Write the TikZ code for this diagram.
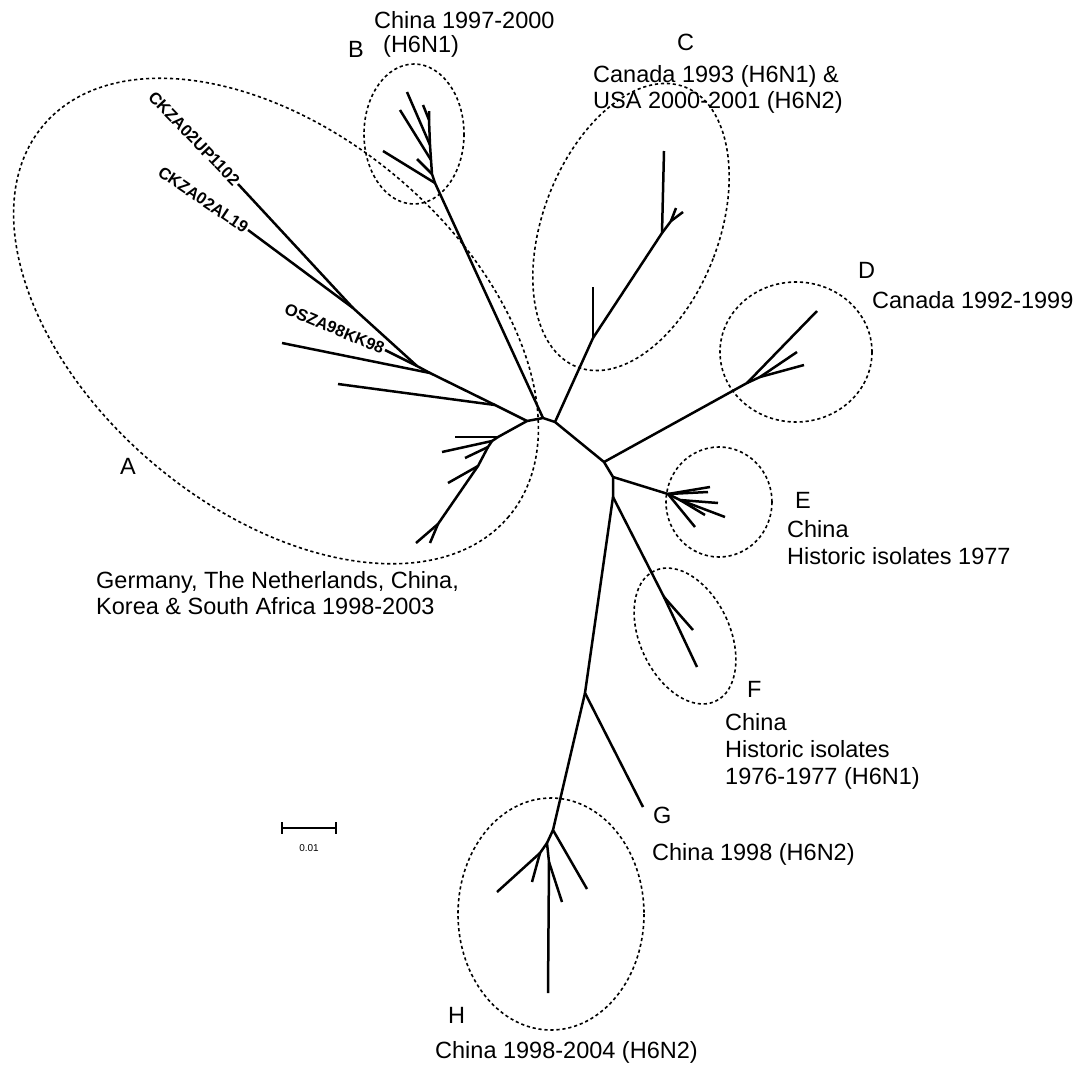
\documentclass[tikz,border=0pt]{standalone}
\usepackage{fontspec}
\setmainfont{Liberation Sans}
\begin{document}
\begin{tikzpicture}[x=1pt,y=-1pt,
  br/.style={line width=2.5pt, line join=round},
  clade/.style={line width=1.6pt, dash pattern=on 3.2pt off 2.8pt},
  lab/.style={font=\fontsize{23.5}{28}\selectfont, anchor=base west, inner sep=0pt},
  tiplab/.style={font=\bfseries\fontsize{16.5}{19}\selectfont, inner sep=1.5pt, anchor=east},
  sbar/.style={line width=1.6pt}]
\fill[white] (0,0) rectangle (1076,1066);
\useasboundingbox (0,0) rectangle (1076,1066);

% ---------- tree coordinates ----------
\coordinate (nA) at (527,421);
\coordinate (nB) at (543,418);
\coordinate (nC) at (555,422);
\coordinate (nD) at (604,462);
\coordinate (nE) at (613,477);
\coordinate (nM) at (613,497);
% A upper
\coordinate (s1) at (495,405); \coordinate (tA1) at (338,384);
\coordinate (s2) at (430,373); \coordinate (tA2) at (282,343);
\coordinate (s3) at (417,366); \coordinate (tOS) at (385,350);
\coordinate (s4) at (353,308); \coordinate (tUP) at (238,184); \coordinate (tAL) at (248,230);
% A lower
\coordinate (a1) at (498,437); \coordinate (ta1) at (455,437);
\coordinate (a2) at (492,441); \coordinate (ta2) at (442,452);
\coordinate (a3) at (488,447); \coordinate (ta3) at (465,458);
\coordinate (a4) at (478,466); \coordinate (ta4) at (448,483);
\coordinate (a5) at (438,524); \coordinate (ta5) at (416,543); \coordinate (ta6) at (430,543);
% B
\coordinate (b0) at (435,183); \coordinate (tb0) at (383,151);
\coordinate (b1) at (432,174); \coordinate (tb1) at (417,159);
\coordinate (b2) at (431,160); \coordinate (tb2) at (400,110);
\coordinate (b3) at (430,145); \coordinate (tb3) at (407,92);
\coordinate (b4) at (429,120); \coordinate (tb4) at (423,105); \coordinate (tb5) at (429,111);
% C
\coordinate (c1) at (593,338); \coordinate (tc1) at (593,287);
\coordinate (c2) at (662,233); \coordinate (tc2) at (664,151);
\coordinate (c3) at (671,221); \coordinate (tc3) at (683,212); \coordinate (tc4) at (676,208);
% D
\coordinate (d0) at (747,383); \coordinate (td0) at (817,311);
\coordinate (d1) at (760,377); \coordinate (td1) at (797,352); \coordinate (td2) at (804,365);
% E
\coordinate (e0) at (668,494); \coordinate (te1) at (710,487); \coordinate (te2) at (708,492);
\coordinate (e1) at (680,500); \coordinate (te3) at (718,503); \coordinate (te4) at (725,517);
\coordinate (te5) at (705,515); \coordinate (te6) at (695,527);
% F
\coordinate (f0) at (664,597); \coordinate (tf1) at (693,630); \coordinate (tf2) at (697,667);
% G, H
\coordinate (g0) at (585,693); \coordinate (tg) at (643,807);
\coordinate (h0) at (553,830); \coordinate (th0) at (587,889);
\coordinate (h1) at (547,843); \coordinate (th1) at (548,993);
\coordinate (h2) at (540,853); \coordinate (th2) at (497,892); \coordinate (th3) at (532,882);
\coordinate (h3) at (549,862); \coordinate (th4) at (562,902);

% ---------- branches ----------
\draw[br] (nA) -- (nB) -- (nC) -- (nD) -- (nE) -- (nM);
\draw[br] (nA) -- (s1) -- (s2) -- (s3) -- (s4) -- (tUP);
\draw[br] (s4) -- (tAL);
\draw[br] (s3) -- (tOS);
\draw[br] (s2) -- (tA2);
\draw[br] (s1) -- (tA1);
\draw[br] (nA) -- (a1) -- (a2) -- (a3) -- (a4) -- (a5) -- (ta5);
\draw[br] (a1) -- (ta1);
\draw[br] (a2) -- (ta2);
\draw[br] (a3) -- (ta3);
\draw[br] (a4) -- (ta4);
\draw[br] (a5) -- (ta6);
\draw[br] (nB) -- (b0) -- (b1) -- (b2) -- (b3) -- (b4) -- (tb5);
\draw[br] (b0) -- (tb0);
\draw[br] (b1) -- (tb1);
\draw[br] (b2) -- (tb2);
\draw[br] (b3) -- (tb3);
\draw[br] (b4) -- (tb4);
\draw[br] (nC) -- (c1) -- (c2) -- (c3) -- (tc3);
\draw[br] (c1) -- (tc1);
\draw[br] (c2) -- (tc2);
\draw[br] (c3) -- (tc4);
\draw[br] (nD) -- (d0) -- (td0);
\draw[br] (d0) -- (d1) -- (td1);
\draw[br] (d1) -- (td2);
\draw[br] (nE) -- (e0) -- (te1);
\draw[br] (e0) -- (te2);
\draw[br] (e0) -- (e1) -- (te3);
\draw[br] (e1) -- (te4);
\draw[br] (e1) -- (te5);
\draw[br] (e0) -- (te6);
\draw[br] (nM) -- (f0) -- (tf2);
\draw[br] (f0) -- (tf1);
\draw[br] (nM) -- (g0) -- (tg);
\draw[br] (g0) -- (h0) -- (th0);
\draw[br] (h0) -- (h1) -- (h3) -- (th1);
\draw[br] (h3) -- (th4);
\draw[br] (h1) -- (h2) -- (th2);
\draw[br] (h2) -- (th3);

% ---------- tip labels ----------
\node[tiplab, rotate=-46] (lUP) at (tUP) {CKZA02UP1102};
\node[tiplab, rotate=-34] (lAL) at (tAL) {CKZA02AL19};
\node[tiplab, rotate=-23] (lOS) at (tOS) {OSZA98KK98};

% ---------- clade ellipses ----------
\draw[clade, rotate around={-40:(276,321)}] (276,321) ellipse [x radius=304, y radius=188];
\draw[clade] (414,134) ellipse [x radius=50, y radius=70];
\draw[clade, rotate around={-21:(631,227)}] (631,227) ellipse [x radius=88, y radius=150];
\draw[clade] (796,352) ellipse [x radius=76, y radius=70];
\draw[clade] (719,502) ellipse [x radius=53, y radius=55];
\draw[clade, rotate around={25:(685,636)}] (685,636) ellipse [x radius=45, y radius=72];
\draw[clade] (551,914) ellipse [x radius=93, y radius=116];

% ---------- clade labels ----------
\node[lab] (LA) at (120,474) {A};
\node[lab] (LA1) at (96,588) {Germany, The Netherlands, China,};
\node[lab] (LA2) at (96,614) {Korea \& South Africa 1998-2003};
\node[lab] (LB) at (348,57) {B};
\node[lab] (LB1) at (374,28) {China 1997-2000};
\node[lab] (LB2) at (383,52) {(H6N1)};
\node[lab] (LC) at (677,50) {C};
\node[lab] (LC1) at (593,82) {Canada 1993 (H6N1) \&};
\node[lab] (LC2) at (593,108) {USA 2000-2001 (H6N2)};
\node[lab] (LD) at (858,278) {D};
\node[lab] (LD1) at (872,308) {Canada 1992-1999};
\node[lab] (LE) at (795,508) {E};
\node[lab] (LE1) at (787,537) {China};
\node[lab] (LE2) at (787,564) {Historic isolates 1977};
\node[lab] (LF) at (747,697) {F};
\node[lab] (LF1) at (725,730) {China};
\node[lab] (LF2) at (725,757) {Historic isolates};
\node[lab] (LF3) at (725,784) {1976-1977 (H6N1)};
\node[lab] (LG) at (653,823) {G};
\node[lab] (LG1) at (652,860) {China 1998 (H6N2)};
\node[lab] (LH) at (448,1023) {H};
\node[lab] (LH1) at (435,1058) {China 1998-2004 (H6N2)};

% ---------- scale bar ----------
\coordinate (sb1) at (282,828);
\coordinate (sb2) at (336,828);
\draw[sbar] (sb1) -- (sb2);
\draw[sbar] (sb1) ++(0,-6) -- ++(0,12);
\draw[sbar] (sb2) ++(0,-6) -- ++(0,12);
\node[font=\fontsize{10}{12}\selectfont, inner sep=0pt] (sblab) at (309,848) {0.01};
\end{tikzpicture}
\end{document}
